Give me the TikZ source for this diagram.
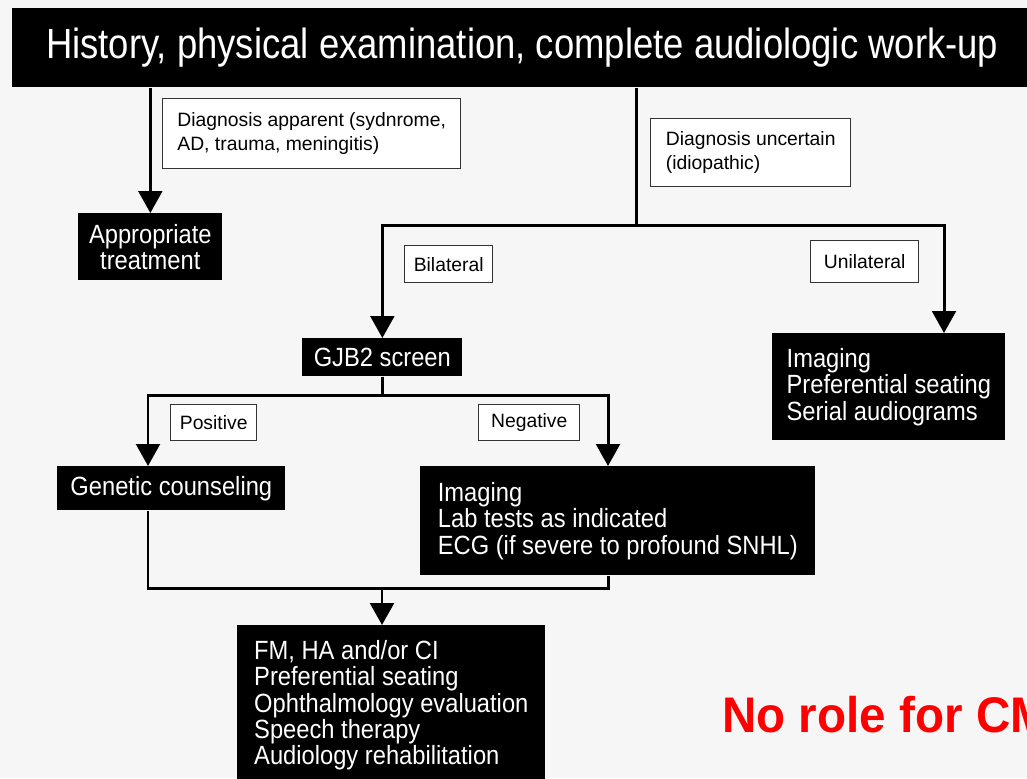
\documentclass[tikz,border=0pt]{standalone}
\usepackage{fontspec}
\usepackage{tikz}
\usetikzlibrary{arrows.meta,positioning,calc}
\setmainfont{Liberation Sans}
\newfontfamily\headfont{Liberation Sans}[FakeStretch=0.865]
\newfontfamily\boxfont{Liberation Sans}[FakeStretch=0.9]
\newfontfamily\notefont{Liberation Sans}[FakeStretch=0.95]
\definecolor{PaperGray}{RGB}{246,246,246}
\definecolor{NoteRed}{RGB}{255,0,0}

\begin{document}
\begin{tikzpicture}[
  x=0.02cm, y=-0.02cm,
  >={Triangle[width=13.5pt,length=12.5pt]},
  line/.style={line width=1.7pt, line join=miter},
  flow/.style={line, ->},
  dark/.style={rectangle, fill=black, text=white, font=\boxfont\fontsize{15}{15}\selectfont, anchor=north west, inner sep=0pt},
  darkl/.style={dark, align=left},
  tag/.style={rectangle, draw=black!80, line width=0.8pt, fill=white, font=\fontsize{11}{14}\selectfont, anchor=north west, inner sep=0pt},
  tagl/.style={tag, align=left},
]
\path[fill=PaperGray] (0,0) rectangle (1027,778);
\clip (0,0) rectangle (1027,778);

\node[dark, minimum width=20.4cm, minimum height=1.58cm, font=\headfont\fontsize{24}{24}\selectfont] (head) at (12,8) {History, physical examination, complete audiologic work-up};
\node[tagl, minimum width=5.96cm, minimum height=1.4cm] (apparent) at (162,98) {Diagnosis apparent (sydnrome,\\AD, trauma, meningitis)};
\node[dark, minimum width=2.88cm, minimum height=1.34cm, align=center] (treat) at (78,213) {Appropriate\\treatment};
\node[tagl, minimum width=4cm, minimum height=1.36cm] (uncertain) at (650,118) {Diagnosis uncertain\\(idiopathic)};
\node[tag, minimum width=1.76cm, minimum height=0.74cm] (bilat) at (404,245) {Bilateral};
\node[tag, minimum width=2.16cm, minimum height=0.84cm] (unilat) at (810,240) {Unilateral};
\node[dark, minimum width=3.2cm, minimum height=0.76cm] (gjb) at (302,338) {GJB2 screen};
\node[darkl, minimum width=4.66cm, minimum height=2.14cm] (uniout) at (772,333) {Imaging\\Preferential seating\\Serial audiograms};
\node[tag, minimum width=1.72cm, minimum height=0.72cm] (pos) at (170,404) {Positive};
\node[tag, minimum width=2.02cm, minimum height=0.72cm] (neg) at (478,404) {Negative};
\node[dark, minimum width=4.56cm, minimum height=0.88cm] (genet) at (57,466) {Genetic counseling};
\node[darkl, minimum width=7.9cm, minimum height=2.18cm] (negout) at (420,466) {Imaging\\Lab tests as indicated\\ECG (if severe to profound SNHL)};
\node[darkl, minimum width=6.16cm, minimum height=3.2cm] (mgmt) at (237,625) {FM, HA and/or CI\\Preferential seating\\Ophthalmology evaluation\\Speech therapy\\Audiology rehabilitation};
\node[anchor=west, text=NoteRed, font=\notefont\bfseries\fontsize{28.5}{28.5}\selectfont, inner sep=0pt] (note) at (722,715) {No role for CM};

\coordinate (c1) at (636,225);
\coordinate (c1r) at (944,225);
\coordinate (c2l) at (148,395);
\coordinate (c2r) at (608,395);
\coordinate (c3) at (382,588);

\draw[flow] (head.south -| treat.north) -- (treat.north);
\draw[line] (head.south -| c1) -- (c1);
\draw[flow] (c1) -| (gjb.north);
\draw[flow] (c1) -- (c1r) -- (c1r |- uniout.north);
\draw[flow] (gjb.south) |- (c2l) -- (c2l |- genet.north);
\draw[flow] (gjb.south) |- (c2r) -- (c2r |- negout.north);
\draw[line] (genet.south -| c2l) |- (c3);
\draw[line] (negout.south -| c2r) |- (c3);
\draw[flow] (c3) -- (c3 |- mgmt.north);
\end{tikzpicture}
\end{document}
